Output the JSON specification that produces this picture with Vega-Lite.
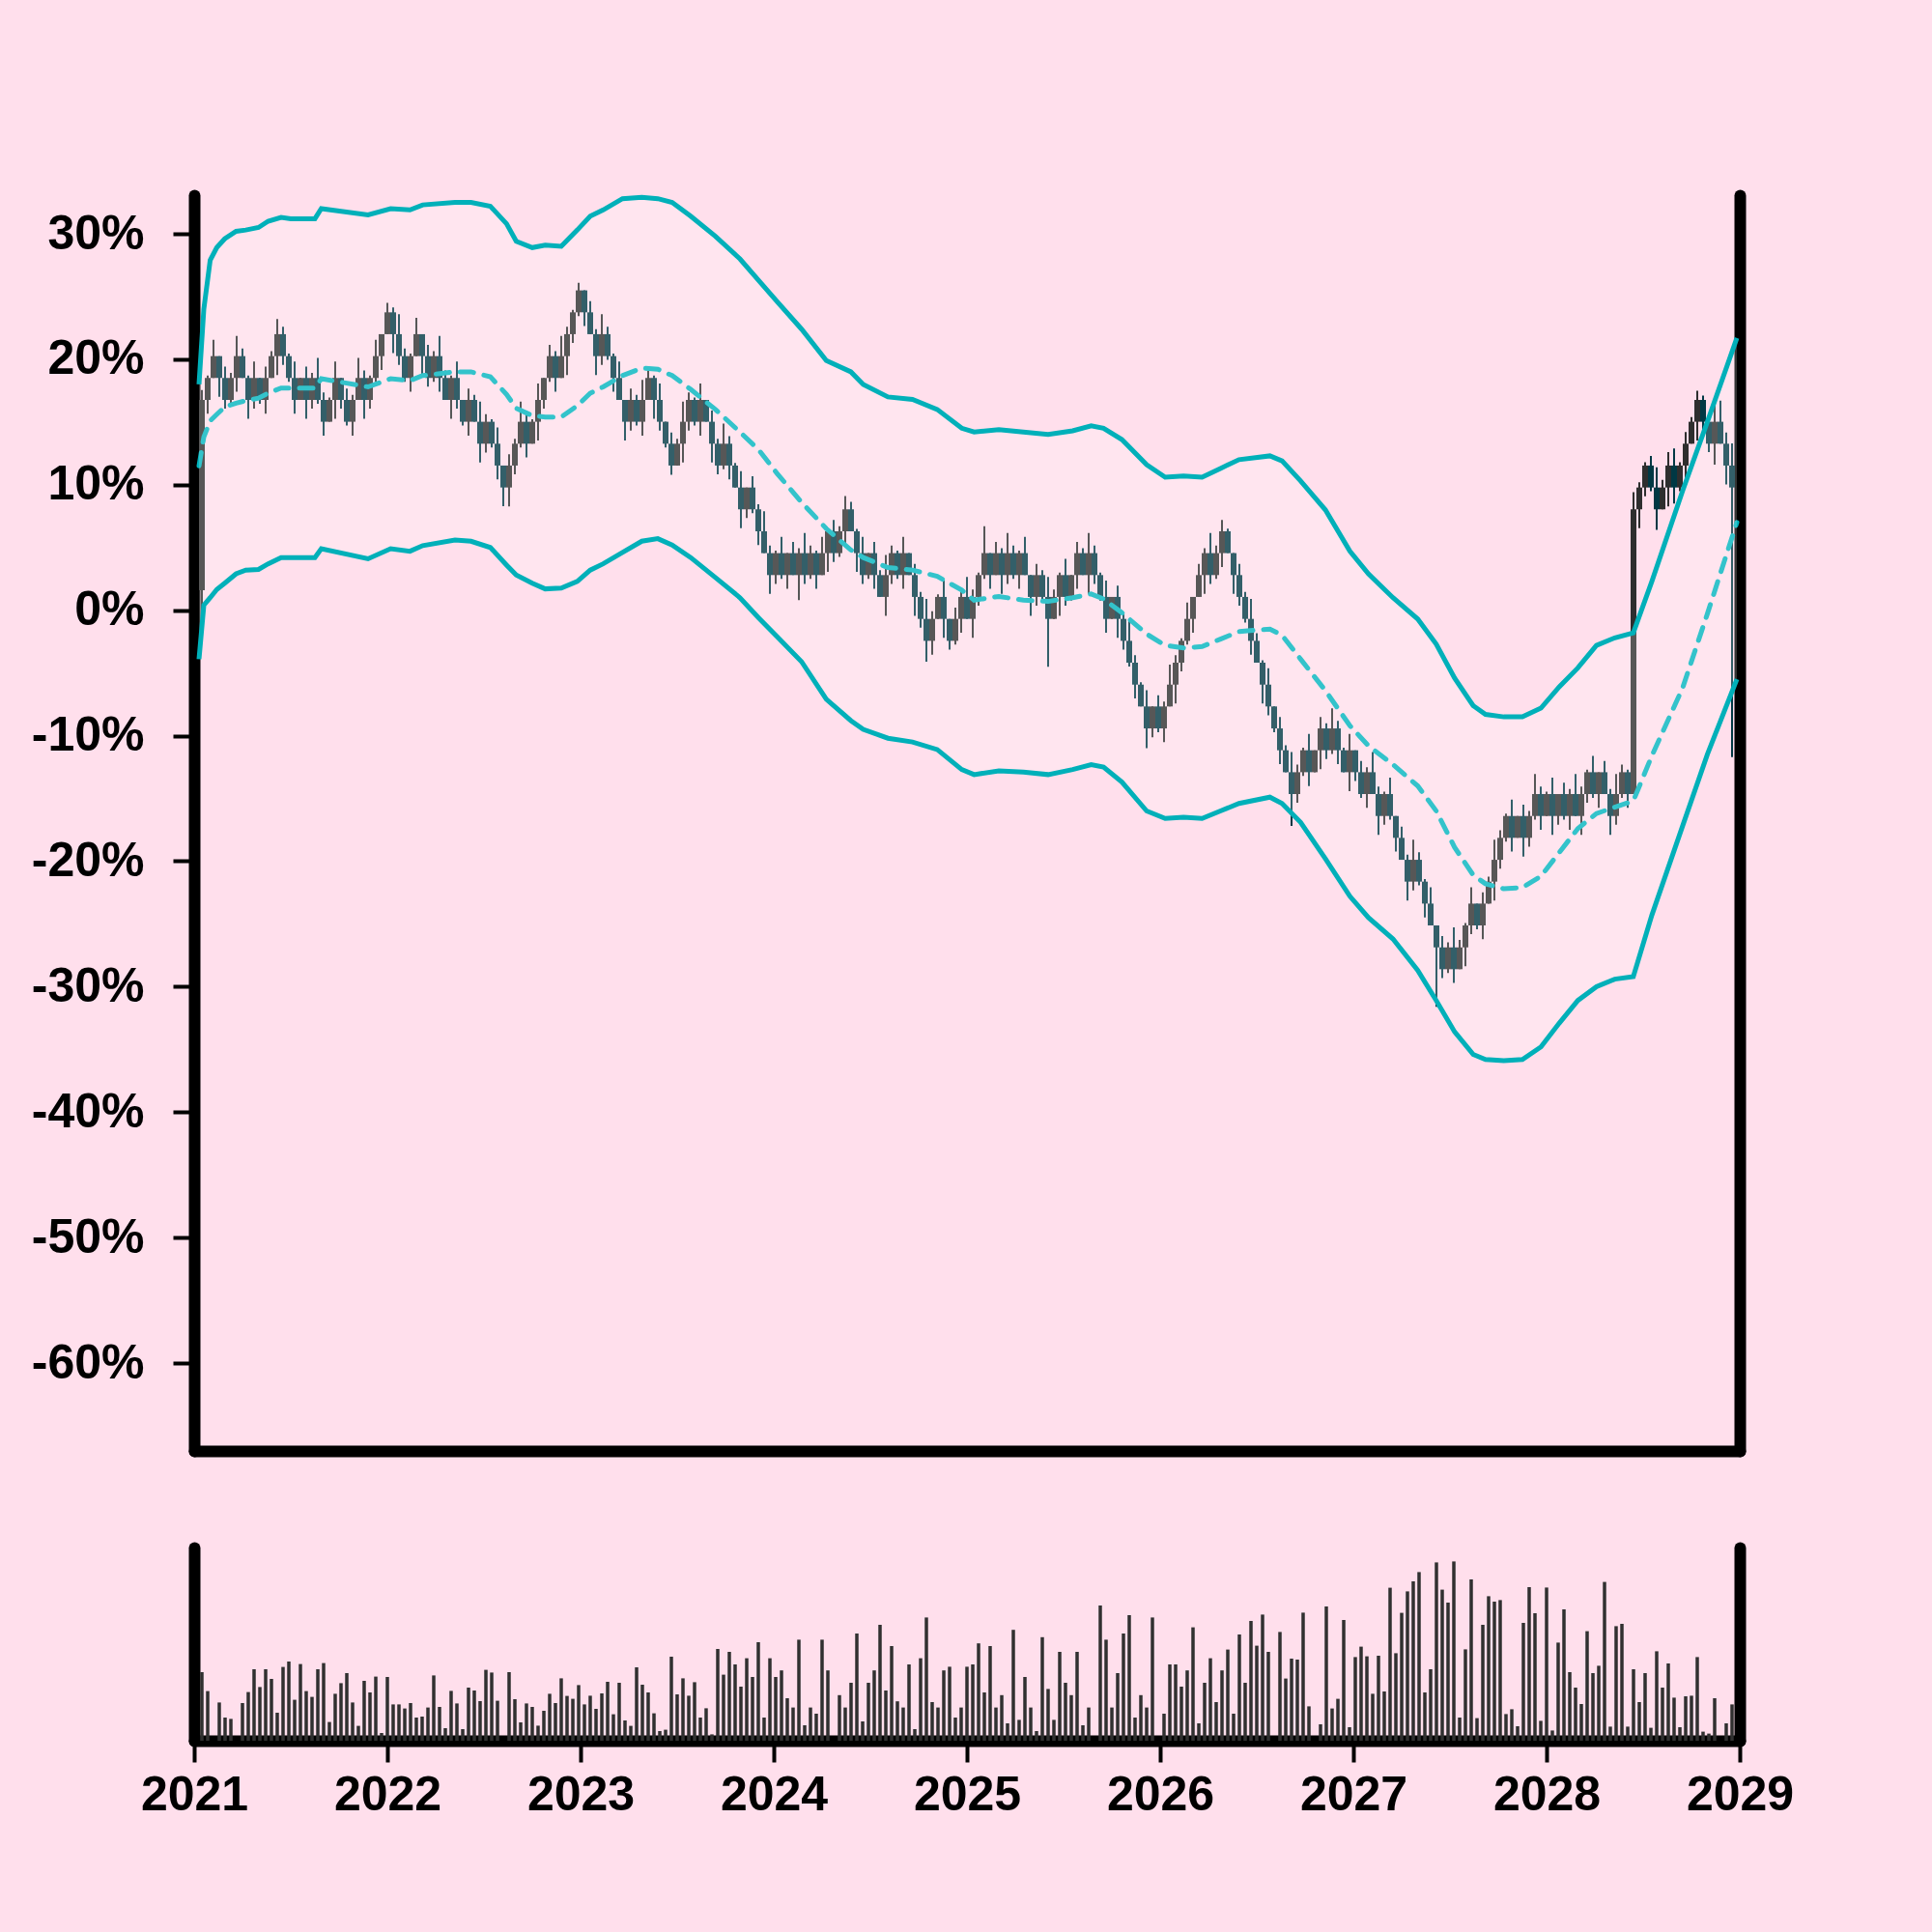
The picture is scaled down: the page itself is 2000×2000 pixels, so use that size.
{
 "$schema": "https://vega.github.io/schema/vega-lite/v6.json",
 "background": "#FFDFEC",
 "padding": {"left": 32, "top": 194, "right": 146, "bottom": 117},
 "spacing": 100,
 "config": {
  "view": {"stroke": null},
  "axis": {"domainColor": "black", "domainWidth": 12, "domainCap": "round", "tickColor": "black", "tickWidth": 4, "tickSize": 22, "labelFont": "Liberation Sans", "labelFontWeight": "bold", "labelFontSize": 50, "labelColor": "black", "grid": false, "title": null}
 },
 "datasets": {
  "k": [
{"t":2021.04,"o":1.6,"c":16.76,"h":17.55,"l":-0.3,"v":35.5},
{"t":2021.07,"o":16.76,"c":18.51,"h":18.71,"l":15.66,"v":25.7},
{"t":2021.10,"o":18.51,"c":20.25,"h":21.55,"l":18.51,"v":0},
{"t":2021.13,"o":20.25,"c":18.51,"h":20.25,"l":17.01,"v":19.8},
{"t":2021.16,"o":18.51,"c":16.76,"h":19.41,"l":16.06,"v":12},
{"t":2021.19,"o":16.76,"c":18.51,"h":18.91,"l":16.46,"v":11.3},
{"t":2021.22,"o":18.51,"c":20.25,"h":21.85,"l":17.41,"v":0},
{"t":2021.25,"o":20.25,"c":18.51,"h":20.85,"l":18.51,"v":19.5},
{"t":2021.28,"o":18.51,"c":16.76,"h":18.71,"l":15.26,"v":25.2},
{"t":2021.31,"o":16.76,"c":18.51,"h":19.81,"l":16.06,"v":37},
{"t":2021.34,"o":18.51,"c":16.76,"h":18.51,"l":16.46,"v":27.8},
{"t":2021.37,"o":16.76,"c":18.51,"h":19.41,"l":15.66,"v":37},
{"t":2021.40,"o":18.51,"c":20.25,"h":20.65,"l":18.51,"v":32},
{"t":2021.43,"o":20.25,"c":22.0,"h":23.2,"l":18.75,"v":14.5},
{"t":2021.46,"o":22.0,"c":20.25,"h":22.6,"l":19.55,"v":38.2},
{"t":2021.49,"o":20.25,"c":18.51,"h":20.45,"l":18.21,"v":41},
{"t":2021.52,"o":18.51,"c":16.76,"h":19.81,"l":15.66,"v":21.2},
{"t":2021.55,"o":16.76,"c":18.51,"h":18.51,"l":16.76,"v":39.7},
{"t":2021.58,"o":18.51,"c":16.76,"h":19.41,"l":15.26,"v":25.7},
{"t":2021.61,"o":16.76,"c":18.51,"h":18.91,"l":16.06,"v":22.7},
{"t":2021.64,"o":18.51,"c":16.76,"h":20.11,"l":16.46,"v":37},
{"t":2021.67,"o":16.76,"c":15.02,"h":17.36,"l":13.92,"v":40.2},
{"t":2021.70,"o":15.02,"c":16.76,"h":16.96,"l":15.02,"v":9.7},
{"t":2021.73,"o":16.76,"c":18.51,"h":19.81,"l":15.26,"v":24.3},
{"t":2021.76,"o":18.51,"c":16.76,"h":18.51,"l":16.06,"v":29.8},
{"t":2021.79,"o":16.76,"c":15.02,"h":17.66,"l":14.72,"v":35},
{"t":2021.82,"o":15.02,"c":16.76,"h":17.16,"l":13.92,"v":19.8},
{"t":2021.85,"o":16.76,"c":18.51,"h":20.11,"l":16.76,"v":7.7},
{"t":2021.88,"o":18.51,"c":16.76,"h":19.11,"l":15.26,"v":31},
{"t":2021.91,"o":16.76,"c":18.51,"h":18.71,"l":16.06,"v":25},
{"t":2021.94,"o":18.51,"c":20.25,"h":21.55,"l":18.21,"v":33.2},
{"t":2021.97,"o":20.25,"c":22.0,"h":22.0,"l":19.15,"v":4},
{"t":2022.00,"o":22.0,"c":23.74,"h":24.5,"l":22.0,"v":33},
{"t":2022.03,"o":23.74,"c":22.0,"h":24.14,"l":20.5,"v":18.8},
{"t":2022.06,"o":22.0,"c":20.25,"h":23.6,"l":19.55,"v":18.8},
{"t":2022.09,"o":20.25,"c":18.51,"h":20.85,"l":18.21,"v":16.7},
{"t":2022.12,"o":18.51,"c":20.25,"h":20.45,"l":17.41,"v":19.5},
{"t":2022.15,"o":20.25,"c":22.0,"h":23.3,"l":20.25,"v":12},
{"t":2022.18,"o":22.0,"c":20.25,"h":22.0,"l":18.75,"v":12.5},
{"t":2022.21,"o":20.25,"c":18.51,"h":21.15,"l":17.81,"v":17.2},
{"t":2022.24,"o":18.51,"c":20.25,"h":20.65,"l":18.21,"v":33.8},
{"t":2022.27,"o":20.25,"c":18.51,"h":21.85,"l":17.41,"v":17.5},
{"t":2022.30,"o":18.51,"c":16.76,"h":19.11,"l":16.76,"v":6.5},
{"t":2022.33,"o":16.76,"c":18.51,"h":18.71,"l":15.26,"v":25.8},
{"t":2022.36,"o":18.51,"c":16.76,"h":19.81,"l":16.06,"v":19.3},
{"t":2022.39,"o":16.76,"c":15.02,"h":16.76,"l":14.72,"v":6},
{"t":2022.42,"o":15.02,"c":16.76,"h":17.66,"l":13.92,"v":27.5},
{"t":2022.45,"o":16.76,"c":15.02,"h":17.16,"l":15.02,"v":26},
{"t":2022.48,"o":15.02,"c":13.27,"h":16.62,"l":11.77,"v":20.5},
{"t":2022.51,"o":13.27,"c":15.02,"h":15.62,"l":12.57,"v":36.7},
{"t":2022.54,"o":15.02,"c":13.27,"h":15.22,"l":12.97,"v":35.3},
{"t":2022.57,"o":13.27,"c":11.53,"h":14.57,"l":10.43,"v":20.7},
{"t":2022.60,"o":11.53,"c":9.78,"h":11.53,"l":8.3,"v":0},
{"t":2022.63,"o":9.78,"c":11.53,"h":12.43,"l":8.28,"v":35.5},
{"t":2022.66,"o":11.53,"c":13.27,"h":13.67,"l":10.83,"v":21.5},
{"t":2022.69,"o":13.27,"c":15.02,"h":16.62,"l":12.97,"v":9.5},
{"t":2022.72,"o":15.02,"c":13.27,"h":15.62,"l":12.17,"v":19.3},
{"t":2022.75,"o":13.27,"c":15.02,"h":15.22,"l":13.27,"v":17.5},
{"t":2022.78,"o":15.02,"c":16.76,"h":18.06,"l":13.52,"v":7.8},
{"t":2022.81,"o":16.76,"c":18.51,"h":18.51,"l":16.06,"v":15.5},
{"t":2022.84,"o":18.51,"c":20.25,"h":21.15,"l":18.21,"v":24.3},
{"t":2022.87,"o":20.25,"c":18.51,"h":20.65,"l":17.41,"v":19.5},
{"t":2022.90,"o":18.51,"c":20.25,"h":21.85,"l":18.51,"v":32.3},
{"t":2022.93,"o":20.25,"c":22.0,"h":22.6,"l":18.75,"v":23.2},
{"t":2022.96,"o":22.0,"c":23.74,"h":23.94,"l":21.3,"v":21.7},
{"t":2022.99,"o":23.74,"c":25.49,"h":26.1,"l":23.44,"v":28.8},
{"t":2023.02,"o":25.49,"c":23.74,"h":25.49,"l":22.64,"v":18.8},
{"t":2023.05,"o":23.74,"c":22.0,"h":24.64,"l":22.0,"v":23.3},
{"t":2023.08,"o":22.0,"c":20.25,"h":22.4,"l":18.75,"v":16.5},
{"t":2023.11,"o":20.25,"c":22.0,"h":23.6,"l":19.55,"v":24.5},
{"t":2023.14,"o":22.0,"c":20.25,"h":22.6,"l":19.95,"v":30.5},
{"t":2023.17,"o":20.25,"c":18.51,"h":20.45,"l":17.41,"v":13.7},
{"t":2023.20,"o":18.51,"c":16.76,"h":19.81,"l":16.76,"v":30},
{"t":2023.23,"o":16.76,"c":15.02,"h":16.76,"l":13.52,"v":10.5},
{"t":2023.26,"o":15.02,"c":16.76,"h":17.66,"l":14.32,"v":7.7},
{"t":2023.29,"o":16.76,"c":15.02,"h":17.16,"l":14.72,"v":38},
{"t":2023.32,"o":15.02,"c":16.76,"h":18.36,"l":13.92,"v":29},
{"t":2023.35,"o":16.76,"c":18.51,"h":19.11,"l":16.76,"v":25},
{"t":2023.38,"o":18.51,"c":16.76,"h":18.71,"l":15.26,"v":14.2},
{"t":2023.41,"o":16.76,"c":15.02,"h":18.06,"l":14.32,"v":5},
{"t":2023.44,"o":15.02,"c":13.27,"h":15.02,"l":12.97,"v":5.7},
{"t":2023.47,"o":13.27,"c":11.53,"h":14.17,"l":10.8,"v":43.5},
{"t":2023.50,"o":11.53,"c":13.27,"h":13.67,"l":11.53,"v":24},
{"t":2023.53,"o":13.27,"c":15.02,"h":16.62,"l":11.77,"v":32.3},
{"t":2023.56,"o":15.02,"c":16.76,"h":17.36,"l":14.32,"v":23.3},
{"t":2023.59,"o":16.76,"c":15.02,"h":16.96,"l":14.72,"v":30.3},
{"t":2023.62,"o":15.02,"c":16.76,"h":18.06,"l":13.92,"v":12},
{"t":2023.65,"o":16.76,"c":15.02,"h":16.76,"l":15.02,"v":16.8},
{"t":2023.68,"o":15.02,"c":13.27,"h":15.92,"l":11.77,"v":3.3},
{"t":2023.71,"o":13.27,"c":11.53,"h":13.67,"l":10.83,"v":47.5},
{"t":2023.74,"o":11.53,"c":13.27,"h":14.87,"l":11.23,"v":34.2},
{"t":2023.77,"o":13.27,"c":11.53,"h":13.87,"l":10.43,"v":46},
{"t":2023.80,"o":11.53,"c":9.78,"h":11.73,"l":9.78,"v":39.5},
{"t":2023.83,"o":9.78,"c":8.04,"h":11.08,"l":6.54,"v":28},
{"t":2023.86,"o":8.04,"c":9.78,"h":9.78,"l":7.34,"v":42.7},
{"t":2023.89,"o":9.78,"c":8.04,"h":10.68,"l":7.74,"v":33},
{"t":2023.92,"o":8.04,"c":6.29,"h":8.44,"l":5.19,"v":51},
{"t":2023.95,"o":6.29,"c":4.55,"h":7.89,"l":4.55,"v":12},
{"t":2023.98,"o":4.55,"c":2.8,"h":5.15,"l":1.3,"v":42.7},
{"t":2024.01,"o":2.8,"c":4.55,"h":4.75,"l":2.1,"v":33},
{"t":2024.04,"o":4.55,"c":2.8,"h":5.85,"l":2.5,"v":36.4},
{"t":2024.07,"o":2.8,"c":4.55,"h":4.55,"l":1.7,"v":22},
{"t":2024.10,"o":4.55,"c":2.8,"h":5.45,"l":2.8,"v":17.2},
{"t":2024.13,"o":2.8,"c":4.55,"h":4.95,"l":0.8,"v":52.3},
{"t":2024.16,"o":4.55,"c":2.8,"h":6.15,"l":2.1,"v":8},
{"t":2024.19,"o":2.8,"c":4.55,"h":5.15,"l":2.5,"v":17.2},
{"t":2024.22,"o":4.55,"c":2.8,"h":4.75,"l":1.7,"v":14},
{"t":2024.25,"o":2.8,"c":4.55,"h":5.85,"l":2.8,"v":52.3},
{"t":2024.28,"o":4.55,"c":6.29,"h":6.29,"l":3.05,"v":36.4},
{"t":2024.31,"o":6.29,"c":4.55,"h":7.19,"l":3.85,"v":0},
{"t":2024.34,"o":4.55,"c":6.29,"h":6.69,"l":4.25,"v":23.6},
{"t":2024.37,"o":6.29,"c":8.04,"h":9.1,"l":5.19,"v":17.2},
{"t":2024.40,"o":8.04,"c":6.29,"h":8.64,"l":6.29,"v":30},
{"t":2024.43,"o":6.29,"c":4.55,"h":6.49,"l":3.05,"v":55.5},
{"t":2024.46,"o":4.55,"c":2.8,"h":5.85,"l":2.1,"v":10},
{"t":2024.49,"o":2.8,"c":4.55,"h":4.55,"l":2.5,"v":30},
{"t":2024.52,"o":4.55,"c":2.8,"h":5.45,"l":1.7,"v":36.4},
{"t":2024.55,"o":2.8,"c":1.06,"h":3.2,"l":1.06,"v":60},
{"t":2024.58,"o":1.06,"c":2.8,"h":4.4,"l":-0.44,"v":26},
{"t":2024.61,"o":2.8,"c":4.55,"h":5.15,"l":2.1,"v":49},
{"t":2024.64,"o":4.55,"c":2.8,"h":4.75,"l":2.5,"v":20.4},
{"t":2024.67,"o":2.8,"c":4.55,"h":5.85,"l":1.7,"v":17.2},
{"t":2024.70,"o":4.55,"c":2.8,"h":4.55,"l":2.8,"v":39.5},
{"t":2024.73,"o":2.8,"c":1.06,"h":3.7,"l":-0.44,"v":6},
{"t":2024.76,"o":1.06,"c":-0.69,"h":1.46,"l":-1.39,"v":42.7},
{"t":2024.79,"o":-0.69,"c":-2.44,"h":0.91,"l":-4.1,"v":63.8},
{"t":2024.82,"o":-2.44,"c":-0.69,"h":-0.09,"l":-3.54,"v":20},
{"t":2024.85,"o":-0.69,"c":1.06,"h":1.26,"l":-0.69,"v":17.2},
{"t":2024.88,"o":1.06,"c":-0.69,"h":2.36,"l":-2.19,"v":36.4},
{"t":2024.91,"o":-0.69,"c":-2.44,"h":-0.69,"l":-3.14,"v":38.3},
{"t":2024.94,"o":-2.44,"c":-0.69,"h":0.21,"l":-2.74,"v":12},
{"t":2024.97,"o":-0.69,"c":1.06,"h":1.46,"l":-1.79,"v":17.2},
{"t":2025.00,"o":1.06,"c":-0.69,"h":2.66,"l":-0.69,"v":38.3},
{"t":2025.03,"o":-0.69,"c":1.06,"h":1.66,"l":-2.19,"v":39.5},
{"t":2025.06,"o":1.06,"c":2.8,"h":3.0,"l":0.36,"v":50.4},
{"t":2025.09,"o":2.8,"c":4.55,"h":6.7,"l":2.5,"v":25},
{"t":2025.12,"o":4.55,"c":2.8,"h":4.55,"l":1.7,"v":49},
{"t":2025.15,"o":2.8,"c":4.55,"h":5.45,"l":2.8,"v":17.2},
{"t":2025.18,"o":4.55,"c":2.8,"h":4.95,"l":1.3,"v":23.6},
{"t":2025.21,"o":2.8,"c":4.55,"h":6.15,"l":2.1,"v":9},
{"t":2025.24,"o":4.55,"c":2.8,"h":5.15,"l":2.5,"v":57.4},
{"t":2025.27,"o":2.8,"c":4.55,"h":4.75,"l":1.7,"v":10.8},
{"t":2025.30,"o":4.55,"c":2.8,"h":5.85,"l":2.8,"v":33},
{"t":2025.33,"o":2.8,"c":1.06,"h":2.8,"l":-0.44,"v":17.2},
{"t":2025.36,"o":1.06,"c":2.8,"h":3.7,"l":0.36,"v":5},
{"t":2025.39,"o":2.8,"c":1.06,"h":3.2,"l":0.76,"v":53.6},
{"t":2025.42,"o":1.06,"c":-0.69,"h":2.66,"l":-4.5,"v":26.8},
{"t":2025.45,"o":-0.69,"c":1.06,"h":1.66,"l":-0.69,"v":10.8},
{"t":2025.48,"o":1.06,"c":2.8,"h":3.0,"l":-0.44,"v":46},
{"t":2025.51,"o":2.8,"c":1.06,"h":4.1,"l":0.36,"v":30},
{"t":2025.54,"o":1.06,"c":2.8,"h":2.8,"l":0.76,"v":23.6},
{"t":2025.57,"o":2.8,"c":4.55,"h":5.45,"l":1.7,"v":46},
{"t":2025.60,"o":4.55,"c":2.8,"h":4.95,"l":2.8,"v":8},
{"t":2025.63,"o":2.8,"c":4.55,"h":6.15,"l":1.3,"v":17.2},
{"t":2025.66,"o":4.55,"c":2.8,"h":5.15,"l":2.1,"v":0},
{"t":2025.69,"o":2.8,"c":1.06,"h":3.0,"l":0.76,"v":70},
{"t":2025.72,"o":1.06,"c":-0.69,"h":2.36,"l":-1.79,"v":52.3},
{"t":2025.75,"o":-0.69,"c":1.06,"h":1.06,"l":-0.69,"v":17.2},
{"t":2025.78,"o":1.06,"c":-0.69,"h":1.96,"l":-2.19,"v":35},
{"t":2025.81,"o":-0.69,"c":-2.44,"h":-0.29,"l":-3.14,"v":55.5},
{"t":2025.84,"o":-2.44,"c":-4.18,"h":-0.84,"l":-4.48,"v":65},
{"t":2025.87,"o":-4.18,"c":-5.93,"h":-3.58,"l":-7.03,"v":12},
{"t":2025.90,"o":-5.93,"c":-7.67,"h":-5.73,"l":-7.67,"v":23.6},
{"t":2025.93,"o":-7.67,"c":-9.42,"h":-6.37,"l":-11.0,"v":17.2},
{"t":2025.96,"o":-9.42,"c":-7.67,"h":-7.67,"l":-10.12,"v":63.8},
{"t":2025.99,"o":-7.67,"c":-9.42,"h":-6.77,"l":-9.72,"v":0},
{"t":2026.02,"o":-9.42,"c":-7.67,"h":-7.27,"l":-10.52,"v":14},
{"t":2026.05,"o":-7.67,"c":-5.93,"h":-4.33,"l":-7.67,"v":39.5},
{"t":2026.08,"o":-5.93,"c":-4.18,"h":-3.58,"l":-7.43,"v":39.5},
{"t":2026.11,"o":-4.18,"c":-2.44,"h":-2.24,"l":-4.88,"v":28},
{"t":2026.14,"o":-2.44,"c":-0.69,"h":0.61,"l":-2.74,"v":36.4},
{"t":2026.17,"o":-0.69,"c":1.06,"h":1.06,"l":-1.79,"v":58.7},
{"t":2026.20,"o":1.06,"c":2.8,"h":3.7,"l":1.06,"v":9},
{"t":2026.23,"o":2.8,"c":4.55,"h":4.95,"l":1.3,"v":30},
{"t":2026.26,"o":4.55,"c":2.8,"h":6.15,"l":2.1,"v":42.7},
{"t":2026.29,"o":2.8,"c":4.55,"h":5.15,"l":2.5,"v":20},
{"t":2026.32,"o":4.55,"c":6.29,"h":7.2,"l":3.45,"v":36.4},
{"t":2026.35,"o":6.29,"c":4.55,"h":6.5,"l":4.55,"v":47.2},
{"t":2026.38,"o":4.55,"c":2.8,"h":4.55,"l":1.3,"v":14},
{"t":2026.41,"o":2.8,"c":1.06,"h":3.7,"l":0.36,"v":55},
{"t":2026.44,"o":1.06,"c":-0.69,"h":1.46,"l":-0.99,"v":30},
{"t":2026.47,"o":-0.69,"c":-2.44,"h":0.91,"l":-3.54,"v":62},
{"t":2026.50,"o":-2.44,"c":-4.18,"h":-1.84,"l":-4.18,"v":49.2},
{"t":2026.53,"o":-4.18,"c":-5.93,"h":-3.98,"l":-7.43,"v":65.3},
{"t":2026.56,"o":-5.93,"c":-7.67,"h":-4.63,"l":-8.37,"v":46},
{"t":2026.59,"o":-7.67,"c":-9.42,"h":-7.67,"l":-9.72,"v":0},
{"t":2026.62,"o":-9.42,"c":-11.16,"h":-8.52,"l":-12.26,"v":56.3},
{"t":2026.65,"o":-11.16,"c":-12.91,"h":-10.76,"l":-12.91,"v":32.2},
{"t":2026.68,"o":-12.91,"c":-14.65,"h":-11.31,"l":-17.2,"v":42.5},
{"t":2026.71,"o":-14.65,"c":-12.91,"h":-12.31,"l":-15.35,"v":42},
{"t":2026.74,"o":-12.91,"c":-11.16,"h":-10.96,"l":-13.21,"v":66.3},
{"t":2026.77,"o":-11.16,"c":-12.91,"h":-9.86,"l":-14.01,"v":17.8},
{"t":2026.80,"o":-12.91,"c":-11.16,"h":-11.16,"l":-12.91,"v":0},
{"t":2026.83,"o":-11.16,"c":-9.42,"h":-8.52,"l":-12.66,"v":8.5},
{"t":2026.86,"o":-9.42,"c":-11.16,"h":-9.02,"l":-11.86,"v":69.5},
{"t":2026.89,"o":-11.16,"c":-9.42,"h":-7.82,"l":-11.46,"v":16.7},
{"t":2026.92,"o":-9.42,"c":-11.16,"h":-8.82,"l":-12.26,"v":21.7},
{"t":2026.95,"o":-11.16,"c":-12.91,"h":-10.96,"l":-12.91,"v":62.5},
{"t":2026.98,"o":-12.91,"c":-11.16,"h":-9.86,"l":-14.41,"v":7},
{"t":2027.01,"o":-11.16,"c":-12.91,"h":-11.16,"l":-13.61,"v":43.3},
{"t":2027.04,"o":-12.91,"c":-14.65,"h":-12.01,"l":-14.95,"v":48.7},
{"t":2027.07,"o":-14.65,"c":-12.91,"h":-12.51,"l":-15.75,"v":43.7},
{"t":2027.10,"o":-12.91,"c":-14.65,"h":-11.31,"l":-14.65,"v":24.3},
{"t":2027.13,"o":-14.65,"c":-16.4,"h":-14.05,"l":-17.9,"v":44},
{"t":2027.16,"o":-16.4,"c":-14.65,"h":-14.45,"l":-17.1,"v":25.5},
{"t":2027.19,"o":-14.65,"c":-16.4,"h":-13.35,"l":-16.7,"v":79.2},
{"t":2027.22,"o":-16.4,"c":-18.14,"h":-16.4,"l":-19.24,"v":45.3},
{"t":2027.25,"o":-18.14,"c":-19.89,"h":-17.24,"l":-19.89,"v":66.2},
{"t":2027.28,"o":-19.89,"c":-21.63,"h":-19.49,"l":-23.13,"v":77.3},
{"t":2027.31,"o":-21.63,"c":-19.89,"h":-18.29,"l":-22.33,"v":82.5},
{"t":2027.34,"o":-19.89,"c":-21.63,"h":-19.29,"l":-21.93,"v":87.3},
{"t":2027.37,"o":-21.63,"c":-23.38,"h":-21.43,"l":-24.48,"v":25},
{"t":2027.40,"o":-23.38,"c":-25.12,"h":-22.08,"l":-25.12,"v":37},
{"t":2027.43,"o":-25.12,"c":-26.87,"h":-25.12,"l":-31.6,"v":92.3},
{"t":2027.46,"o":-26.87,"c":-28.61,"h":-25.97,"l":-29.31,"v":78.2},
{"t":2027.49,"o":-28.61,"c":-26.87,"h":-26.47,"l":-28.91,"v":71.5},
{"t":2027.52,"o":-26.87,"c":-28.61,"h":-25.27,"l":-29.71,"v":92.8},
{"t":2027.55,"o":-28.61,"c":-26.87,"h":-26.27,"l":-28.61,"v":12},
{"t":2027.58,"o":-26.87,"c":-25.12,"h":-24.92,"l":-28.37,"v":47.3},
{"t":2027.61,"o":-25.12,"c":-23.38,"h":-22.08,"l":-25.82,"v":83.5},
{"t":2027.64,"o":-23.38,"c":-25.12,"h":-23.38,"l":-25.42,"v":11.7},
{"t":2027.67,"o":-25.12,"c":-23.38,"h":-22.48,"l":-26.22,"v":60},
{"t":2027.70,"o":-23.38,"c":-21.63,"h":-21.23,"l":-23.38,"v":74.8},
{"t":2027.73,"o":-21.63,"c":-19.89,"h":-18.29,"l":-23.13,"v":72},
{"t":2027.76,"o":-19.89,"c":-18.14,"h":-17.54,"l":-20.59,"v":72.8},
{"t":2027.79,"o":-18.14,"c":-16.4,"h":-16.2,"l":-18.44,"v":13.8},
{"t":2027.82,"o":-16.4,"c":-18.14,"h":-15.1,"l":-19.24,"v":16.3},
{"t":2027.85,"o":-18.14,"c":-16.4,"h":-16.4,"l":-18.14,"v":7.5},
{"t":2027.88,"o":-16.4,"c":-18.14,"h":-15.5,"l":-19.64,"v":61},
{"t":2027.91,"o":-18.14,"c":-16.4,"h":-16.0,"l":-18.84,"v":79.5},
{"t":2027.94,"o":-16.4,"c":-14.65,"h":-13.05,"l":-16.7,"v":66},
{"t":2027.97,"o":-14.65,"c":-16.4,"h":-14.05,"l":-17.5,"v":10.3},
{"t":2028.00,"o":-16.4,"c":-14.65,"h":-14.45,"l":-16.4,"v":79.3},
{"t":2028.03,"o":-14.65,"c":-16.4,"h":-13.35,"l":-17.9,"v":5.3},
{"t":2028.06,"o":-16.4,"c":-14.65,"h":-14.65,"l":-17.1,"v":50.8},
{"t":2028.09,"o":-14.65,"c":-16.4,"h":-13.75,"l":-16.7,"v":68},
{"t":2028.12,"o":-16.4,"c":-14.65,"h":-14.25,"l":-17.5,"v":35.5},
{"t":2028.15,"o":-14.65,"c":-16.4,"h":-13.05,"l":-16.4,"v":27.5},
{"t":2028.18,"o":-16.4,"c":-14.65,"h":-14.05,"l":-17.9,"v":19},
{"t":2028.21,"o":-14.65,"c":-12.91,"h":-12.71,"l":-15.35,"v":56.7},
{"t":2028.24,"o":-12.91,"c":-14.65,"h":-11.61,"l":-14.95,"v":35},
{"t":2028.27,"o":-14.65,"c":-12.91,"h":-12.91,"l":-15.75,"v":38.8},
{"t":2028.30,"o":-12.91,"c":-14.65,"h":-12.01,"l":-14.65,"v":82.2},
{"t":2028.33,"o":-14.65,"c":-16.4,"h":-14.25,"l":-17.9,"v":7.3},
{"t":2028.36,"o":-16.4,"c":-14.65,"h":-13.05,"l":-17.1,"v":59.3},
{"t":2028.39,"o":-14.65,"c":-12.91,"h":-12.31,"l":-14.95,"v":60.5},
{"t":2028.42,"o":-12.91,"c":-14.65,"h":-12.71,"l":-15.75,"v":7.3},
{"t":2028.45,"o":-14.65,"c":8.04,"h":9.4,"l":-14.65,"v":37},
{"t":2028.48,"o":8.04,"c":9.78,"h":10.2,"l":6.54,"v":20},
{"t":2028.51,"o":9.78,"c":11.53,"h":11.8,"l":9.08,"v":35},
{"t":2028.54,"o":11.53,"c":9.78,"h":12.3,"l":9.48,"v":6.7},
{"t":2028.57,"o":9.78,"c":8.04,"h":11.38,"l":6.4,"v":46.3},
{"t":2028.60,"o":8.04,"c":9.78,"h":10.38,"l":8.04,"v":27.5},
{"t":2028.63,"o":9.78,"c":11.53,"h":12.6,"l":8.28,"v":40},
{"t":2028.66,"o":11.53,"c":9.78,"h":12.9,"l":8.5,"v":22.3},
{"t":2028.69,"o":9.78,"c":11.53,"h":11.8,"l":9.48,"v":7},
{"t":2028.72,"o":11.53,"c":13.27,"h":14.2,"l":10.43,"v":23},
{"t":2028.75,"o":13.27,"c":15.02,"h":15.4,"l":13.27,"v":23.3},
{"t":2028.78,"o":15.02,"c":16.76,"h":17.5,"l":13.52,"v":43.3},
{"t":2028.81,"o":16.76,"c":15.02,"h":17.1,"l":14.32,"v":4.7},
{"t":2028.84,"o":15.02,"c":13.27,"h":15.22,"l":12.6,"v":3.7},
{"t":2028.87,"o":13.27,"c":15.02,"h":16.7,"l":11.6,"v":22},
{"t":2028.90,"o":15.02,"c":13.27,"h":16.7,"l":13.27,"v":0},
{"t":2028.93,"o":13.27,"c":11.53,"h":14.17,"l":10.03,"v":9},
{"t":2028.96,"o":11.53,"c":9.78,"h":13.3,"l":-11.7,"v":18.8}
  ],
  "b": [
   {"t":2021.025,"u":18.0,"m":11.5,"d":-3.9},
   {"t":2021.050,"u":24.0,"m":13.8,"d":0.4},
   {"t":2021.083,"u":27.9,"m":15.1,"d":1.0},
   {"t":2021.117,"u":28.9,"m":15.6,"d":1.65},
   {"t":2021.158,"u":29.6,"m":16.2,"d":2.15},
   {"t":2021.217,"u":30.2,"m":16.5,"d":2.9},
   {"t":2021.267,"u":30.3,"m":16.7,"d":3.2},
   {"t":2021.333,"u":30.5,"m":16.9,"d":3.25},
   {"t":2021.383,"u":31.0,"m":17.3,"d":3.7},
   {"t":2021.450,"u":31.3,"m":17.7,"d":4.2},
   {"t":2021.500,"u":31.2,"m":17.7,"d":4.2},
   {"t":2021.625,"u":31.2,"m":17.7,"d":4.2},
   {"t":2021.658,"u":32.0,"m":18.45,"d":4.9},
   {"t":2021.900,"u":31.5,"m":17.8,"d":4.1},
   {"t":2022.017,"u":32.0,"m":18.45,"d":4.9},
   {"t":2022.117,"u":31.9,"m":18.3,"d":4.7},
   {"t":2022.183,"u":32.3,"m":18.7,"d":5.15},
   {"t":2022.350,"u":32.5,"m":19.0,"d":5.6},
   {"t":2022.433,"u":32.5,"m":19.0,"d":5.5},
   {"t":2022.533,"u":32.2,"m":18.6,"d":5.0},
   {"t":2022.617,"u":30.8,"m":17.2,"d":3.6},
   {"t":2022.667,"u":29.4,"m":16.1,"d":2.8},
   {"t":2022.750,"u":28.9,"m":15.5,"d":2.15},
   {"t":2022.817,"u":29.1,"m":15.4,"d":1.7},
   {"t":2022.900,"u":29.0,"m":15.4,"d":1.77},
   {"t":2022.983,"u":30.3,"m":16.3,"d":2.3},
   {"t":2023.050,"u":31.4,"m":17.3,"d":3.2},
   {"t":2023.117,"u":31.9,"m":17.8,"d":3.7},
   {"t":2023.217,"u":32.8,"m":18.7,"d":4.6},
   {"t":2023.317,"u":32.9,"m":19.3,"d":5.5},
   {"t":2023.400,"u":32.8,"m":19.2,"d":5.7},
   {"t":2023.474,"u":32.5,"m":18.7,"d":5.2},
   {"t":2023.570,"u":31.4,"m":17.6,"d":4.2},
   {"t":2023.698,"u":29.8,"m":16.0,"d":2.6},
   {"t":2023.825,"u":28.0,"m":14.2,"d":1.0},
   {"t":2023.921,"u":26.3,"m":12.8,"d":-0.6},
   {"t":2024.017,"u":24.6,"m":10.9,"d":-2.1},
   {"t":2024.144,"u":22.4,"m":8.6,"d":-4.1},
   {"t":2024.272,"u":19.9,"m":6.5,"d":-7.1},
   {"t":2024.399,"u":19.0,"m":4.8,"d":-8.8},
   {"t":2024.463,"u":18.0,"m":4.2,"d":-9.5},
   {"t":2024.591,"u":17.0,"m":3.4,"d":-10.2},
   {"t":2024.718,"u":16.8,"m":3.2,"d":-10.5},
   {"t":2024.846,"u":16.0,"m":2.7,"d":-11.1},
   {"t":2024.973,"u":14.5,"m":1.6,"d":-12.7},
   {"t":2025.037,"u":14.2,"m":0.8,"d":-13.1},
   {"t":2025.165,"u":14.4,"m":1.1,"d":-12.8},
   {"t":2025.292,"u":14.2,"m":0.8,"d":-12.9},
   {"t":2025.420,"u":14.0,"m":0.7,"d":-13.1},
   {"t":2025.547,"u":14.3,"m":1.0,"d":-12.7},
   {"t":2025.643,"u":14.7,"m":1.3,"d":-12.3},
   {"t":2025.707,"u":14.5,"m":0.9,"d":-12.5},
   {"t":2025.802,"u":13.6,"m":-0.2,"d":-13.7},
   {"t":2025.930,"u":11.6,"m":-1.9,"d":-16.0},
   {"t":2026.026,"u":10.6,"m":-2.8,"d":-16.6},
   {"t":2026.121,"u":10.7,"m":-3.0,"d":-16.5},
   {"t":2026.217,"u":10.6,"m":-2.9,"d":-16.6},
   {"t":2026.312,"u":11.3,"m":-2.3,"d":-16.0},
   {"t":2026.408,"u":12.0,"m":-1.7,"d":-15.4},
   {"t":2026.568,"u":12.3,"m":-1.5,"d":-14.9},
   {"t":2026.631,"u":11.9,"m":-2.0,"d":-15.4},
   {"t":2026.727,"u":10.3,"m":-3.9,"d":-16.9},
   {"t":2026.855,"u":8.0,"m":-6.4,"d":-19.8},
   {"t":2026.982,"u":4.7,"m":-9.2,"d":-22.8},
   {"t":2027.078,"u":2.9,"m":-10.8,"d":-24.5},
   {"t":2027.205,"u":1.0,"m":-12.3,"d":-26.2},
   {"t":2027.333,"u":-0.7,"m":-14.0,"d":-28.7},
   {"t":2027.429,"u":-2.7,"m":-16.0,"d":-31.1},
   {"t":2027.524,"u":-5.4,"m":-18.9,"d":-33.6},
   {"t":2027.620,"u":-7.6,"m":-21.1,"d":-35.4},
   {"t":2027.684,"u":-8.3,"m":-21.8,"d":-35.8},
   {"t":2027.779,"u":-8.5,"m":-22.2,"d":-35.9},
   {"t":2027.875,"u":-8.5,"m":-22.1,"d":-35.8},
   {"t":2027.971,"u":-7.8,"m":-21.2,"d":-34.8},
   {"t":2028.066,"u":-6.1,"m":-19.3,"d":-32.9},
   {"t":2028.162,"u":-4.6,"m":-17.4,"d":-31.1},
   {"t":2028.258,"u":-2.8,"m":-16.2,"d":-30.0},
   {"t":2028.353,"u":-2.2,"m":-15.7,"d":-29.4},
   {"t":2028.449,"u":-1.8,"m":-15.2,"d":-29.2},
   {"t":2028.545,"u":2.3,"m":-11.6,"d":-24.3},
   {"t":2028.704,"u":9.5,"m":-6.2,"d":-17.2},
   {"t":2028.832,"u":15.0,"m":-0.3,"d":-11.5},
   {"t":2028.985,"u":21.7,"m":7.0,"d":-5.5}
  ]
 },
 "vconcat": [
  {
   "width": 1600,
   "height": 1300,
   "layer": [
    {
     "data": {"name": "k"},
     "mark": {"type": "rule", "strokeWidth": 2},
     "encoding": {
      "x": {"field": "t", "type": "quantitative", "scale": {"domain": [2021, 2029], "nice": false, "zero": false, "padding": 0}, "axis": {"orient": "bottom", "labels": false, "ticks": false}},
      "y": {"field": "l", "type": "quantitative", "scale": {"domain": [-67, 33.08], "nice": false, "zero": false, "padding": 0}, "axis": {"orient": "left", "values": [-60, -50, -40, -30, -20, -10, 0, 10, 20, 30], "labelExpr": "datum.value + '%'", "labelPadding": 30}},
      "y2": {"field": "h"},
      "color": {"condition": {"test": "datum.c >= datum.o", "value": "#2E2E2E"}, "value": "#003844"}
     }
    },
    {
     "data": {"name": "k"},
     "mark": {"type": "bar", "width": 6},
     "encoding": {
      "x": {"field": "t", "type": "quantitative", "scale": {"domain": [2021, 2029], "nice": false, "zero": false, "padding": 0}, "axis": {"orient": "bottom", "labels": false, "ticks": false}},
      "y": {"field": "o", "type": "quantitative", "scale": {"domain": [-67, 33.08], "nice": false, "zero": false, "padding": 0}, "axis": null},
      "y2": {"field": "c"},
      "color": {"condition": {"test": "datum.c >= datum.o", "value": "#2E2E2E"}, "value": "#003844"}
     }
    },
    {
     "data": {"name": "b"},
     "mark": {"type": "line", "strokeWidth": 5, "strokeDash": [14, 11], "strokeCap": "round", "color": "#00B4BE"},
     "encoding": {
      "x": {"field": "t", "type": "quantitative", "scale": {"domain": [2021, 2029], "nice": false, "zero": false, "padding": 0}, "axis": {"orient": "bottom", "labels": false, "ticks": false}},
      "y": {"field": "m", "type": "quantitative", "scale": {"domain": [-67, 33.08], "nice": false, "zero": false, "padding": 0}, "axis": null}
     }
    },
    {
     "data": {"name": "b"},
     "mark": {"type": "area", "color": "white", "opacity": 0.2},
     "encoding": {
      "x": {"field": "t", "type": "quantitative", "scale": {"domain": [2021, 2029], "nice": false, "zero": false, "padding": 0}, "axis": {"orient": "bottom", "labels": false, "ticks": false}},
      "y": {"field": "d", "type": "quantitative", "scale": {"domain": [-67, 33.08], "nice": false, "zero": false, "padding": 0}, "axis": null},
      "y2": {"field": "u"}
     }
    },
    {
     "data": {"name": "b"},
     "mark": {"type": "line", "strokeWidth": 5, "color": "#00B0B9"},
     "encoding": {
      "x": {"field": "t", "type": "quantitative", "scale": {"domain": [2021, 2029], "nice": false, "zero": false, "padding": 0}, "axis": {"orient": "bottom", "labels": false, "ticks": false}},
      "y": {"field": "u", "type": "quantitative", "scale": {"domain": [-67, 33.08], "nice": false, "zero": false, "padding": 0}, "axis": null}
     }
    },
    {
     "data": {"name": "b"},
     "mark": {"type": "line", "strokeWidth": 5, "color": "#00B0B9"},
     "encoding": {
      "x": {"field": "t", "type": "quantitative", "scale": {"domain": [2021, 2029], "nice": false, "zero": false, "padding": 0}, "axis": {"orient": "bottom", "labels": false, "ticks": false}},
      "y": {"field": "d", "type": "quantitative", "scale": {"domain": [-67, 33.08], "nice": false, "zero": false, "padding": 0}, "axis": {"orient": "right", "labels": false, "ticks": false}}
     }
    }
   ],
   "resolve": {"scale": {"y": "independent"}}
  },
  {
   "width": 1600,
   "height": 200,
   "data": {"name": "k"},
   "layer": [
    {
     "mark": {"type": "bar", "width": 3.5, "color": "#303030"},
     "encoding": {
      "x": {"field": "t", "type": "quantitative", "scale": {"domain": [2021, 2029], "nice": false, "zero": false, "padding": 0}, "axis": {"orient": "bottom", "values": [2021, 2022, 2023, 2024, 2025, 2026, 2027, 2028, 2029], "format": "d", "labelFlush": false, "labelOverlap": false, "labelPadding": 9}},
      "y": {"field": "v", "type": "quantitative", "scale": {"domain": [0, 100], "nice": false, "padding": 0}, "axis": {"orient": "left", "labels": false, "ticks": false}}
     }
    },
    {
     "mark": {"type": "bar", "width": 3, "opacity": 0},
     "encoding": {
      "x": {"field": "t", "type": "quantitative", "scale": {"domain": [2021, 2029], "nice": false, "zero": false, "padding": 0}, "axis": {"orient": "bottom", "values": [2021, 2022, 2023, 2024, 2025, 2026, 2027, 2028, 2029], "format": "d", "labelFlush": false, "labelOverlap": false, "labelPadding": 9}},
      "y": {"field": "v", "type": "quantitative", "scale": {"domain": [0, 100], "nice": false, "padding": 0}, "axis": {"orient": "right", "labels": false, "ticks": false}}
     }
    }
   ],
   "resolve": {"scale": {"y": "independent"}}
  }
 ]
}
